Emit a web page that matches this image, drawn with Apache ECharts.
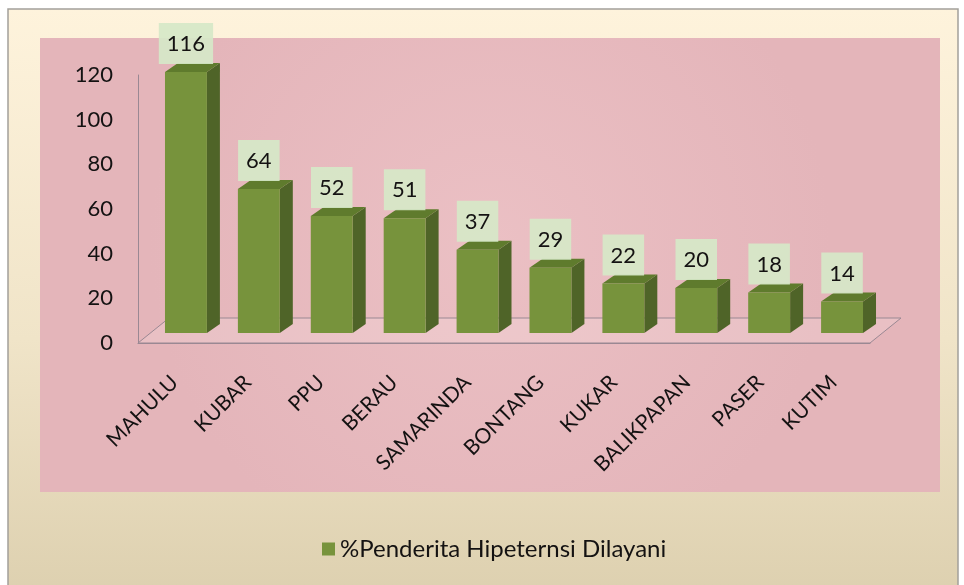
<!DOCTYPE html>
<html>
<head>
<meta charset="utf-8">
<script src="https://cdn.jsdelivr.net/npm/echarts@6/dist/echarts.min.js"></script>
<style>
  html, body { margin: 0; padding: 0; background: #ffffff; }
  #chart { width: 964px; height: 585px; }
</style>
</head>
<body>
<div id="chart"></div>
<script>
// Kabupaten / kota categories and their values
const categories = ['MAHULU', 'KUBAR', 'PPU', 'BERAU', 'SAMARINDA', 'BONTANG', 'KUKAR', 'BALIKPAPAN', 'PASER', 'KUTIM'];
const served = [116, 64, 52, 51, 37, 29, 22, 20, 18, 14];
const yTicks = { min: 0, max: 120, interval: 20 };
const seriesName = '%Penderita Hipeternsi Dilayani';

const FONT = 'Lato, "Liberation Sans", sans-serif';
const INK = '#141212';
const FRONT = '#77933c';
const SIDE = '#4f6428';
const TOP = '#5f7b2d';
const DEPTH_X = 13, DEPTH_Y = 9;       // bar extrusion
const FLOOR_X = 31, FLOOR_Y = 25;      // floor depth

const chart = echarts.init(document.getElementById('chart'), null, { renderer: 'canvas' });

function renderFloor(params, api) {
  const cs = params.coordSys;
  const x0 = cs.x, x1 = cs.x + cs.width, y = cs.y + cs.height;
  return {
    type: 'polygon',
    shape: { points: [[x0, y], [x1, y], [x1 + FLOOR_X, y - FLOOR_Y], [x0 + FLOOR_X, y - FLOOR_Y]] },
    style: { fill: 'rgba(255,245,245,0.18)', stroke: '#9a8893', lineWidth: 1 },
    silent: true
  };
}

function renderBar(params, api) {
  const v = api.value(1);
  const top = api.coord([api.value(0), v]);
  const base = api.coord([api.value(0), 0]);
  const bw = api.size([1, 0])[0] * 0.575;
  const l = top[0] - bw / 2, r = top[0] + bw / 2;
  const ty = top[1], by = base[1];
  return {
    type: 'group',
    children: [
      {
        type: 'polygon',
        shape: { points: [[r, ty], [r + DEPTH_X, ty - DEPTH_Y], [r + DEPTH_X, by - DEPTH_Y], [r, by]] },
        style: { fill: SIDE }
      },
      {
        type: 'polygon',
        shape: { points: [[l, ty], [l + DEPTH_X, ty - DEPTH_Y], [r + DEPTH_X, ty - DEPTH_Y], [r, ty]] },
        style: { fill: TOP }
      },
      {
        type: 'rect',
        shape: { x: l, y: ty, width: bw, height: by - ty },
        style: { fill: FRONT }
      },
      {
        type: 'text',
        x: top[0],
        y: ty - DEPTH_Y + 1,
        style: {
          text: String(v),
          align: 'center',
          verticalAlign: 'bottom',
          font: '22px ' + FONT,
          fill: INK,
          backgroundColor: 'rgba(214,232,200,0.92)',
          padding: [10, 8, 9, 8]
        }
      }
    ]
  };
}

const option = {
  backgroundColor: '#ffffff',
  animation: false,
  textStyle: { fontFamily: FONT },
  graphic: [
    {
      type: 'rect', z: -100,
      shape: { x: 8, y: 9, width: 950, height: 600 },
      style: {
        fill: new echarts.graphic.LinearGradient(0, 0, 0, 1, [
          { offset: 0, color: '#fef3dc' },
          { offset: 0.55, color: '#f0e4c8' },
          { offset: 1, color: '#dccfae' }
        ]),
        stroke: '#a3a09a', lineWidth: 1.5
      }
    },
    {
      type: 'rect', z: -99,
      shape: { x: 40, y: 38, width: 900, height: 454 },
      style: {
        fill: new echarts.graphic.RadialGradient(0.5, 0.45, 0.75, [
          { offset: 0, color: '#ebc0c4' },
          { offset: 1, color: '#e4b5ba' }
        ])
      }
    }
  ],
  legend: {
    left: 317,
    top: 532,
    icon: 'rect',
    itemWidth: 13,
    itemHeight: 13,
    itemGap: 6,
    textStyle: { fontFamily: FONT, fontSize: 24, color: INK },
    data: [seriesName]
  },
  grid: [
    { left: 138, right: 94, top: 75, bottom: 242, containLabel: false, outerBoundsMode: 'none' },
    { left: 149.5, right: 85.5, top: 63, bottom: 252, containLabel: false, outerBoundsMode: 'none' }
  ],
  xAxis: [
    {
      type: 'category', gridIndex: 0, data: categories,
      axisLine: { show: true, lineStyle: { color: '#9a8893', width: 1 } },
      axisTick: { show: false },
      axisLabel: { rotate: 45, margin: 36, fontSize: 21, color: INK, fontFamily: FONT, interval: 0 }
    },
    {
      type: 'category', gridIndex: 1, data: categories,
      show: false
    }
  ],
  yAxis: [
    {
      type: 'value', gridIndex: 0, min: yTicks.min, max: yTicks.max, interval: yTicks.interval,
      axisLine: { show: true, lineStyle: { color: '#9a8893', width: 1 } },
      axisTick: { show: false },
      splitLine: { show: false },
      axisLabel: { margin: 25, fontSize: 22, color: INK, fontFamily: FONT }
    },
    {
      type: 'value', gridIndex: 1, min: yTicks.min, max: yTicks.max, interval: yTicks.interval,
      show: false, splitLine: { show: false }
    }
  ],
  series: [
    {
      type: 'custom', name: 'floor', xAxisIndex: 0, yAxisIndex: 0,
      data: [[0, 0]], renderItem: renderFloor, silent: true, z: 1
    },
    {
      type: 'custom', name: seriesName, xAxisIndex: 1, yAxisIndex: 1,
      itemStyle: { color: FRONT },
      encode: { x: 0, y: 1 },
      data: served.map((v, i) => [i, v]),
      renderItem: renderBar, z: 3
    }
  ]
};

chart.setOption(option);
</script>
</body>
</html>
